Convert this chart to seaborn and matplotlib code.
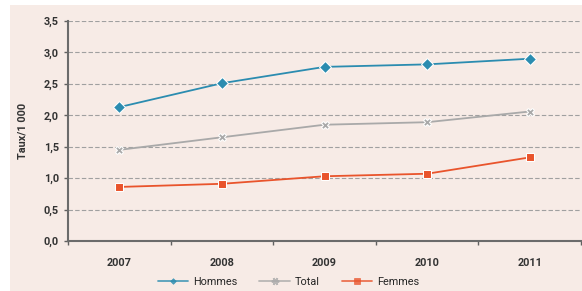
import pandas as pd
import matplotlib.pyplot as plt
import seaborn as sns
from matplotlib.patches import Rectangle
from matplotlib.ticker import FixedLocator, FuncFormatter

# Données
annees = ['2007', '2008', '2009', '2010', '2011']
hommes = [2.13, 2.51, 2.77, 2.81, 2.90]
total = [1.45, 1.65, 1.85, 1.89, 2.06]
femmes = [0.86, 0.91, 1.03, 1.07, 1.33]

series = ['Hommes', 'Total', 'Femmes']
couleurs = {'Hommes': '#2b8cb0', 'Total': '#a9a9a9', 'Femmes': '#e9542c'}
marqueurs = {'Hommes': 'D', 'Total': 'X', 'Femmes': 's'}
tailles = {'Hommes': 3.2, 'Total': 6, 'Femmes': 5}

df = pd.DataFrame({'annee': annees * 3,
                   'taux': hommes + total + femmes,
                   'serie': [s for s in series for _ in annees]})

sns.set_style('white')
plt.rcParams['font.family'] = ['Roboto', 'DejaVu Sans']

fond = '#f7ebe6'
fig = plt.figure(figsize=(5.82, 2.91), dpi=100, facecolor='white')
fig.patches.append(Rectangle((10 / 582, 0), 1, 1 - 5 / 291, transform=fig.transFigure,
                             facecolor=fond, edgecolor='none', zorder=-1))
ax = fig.add_axes([68 / 582, 50 / 291, 513 / 582, 220 / 291])
ax.set_facecolor(fond)

sns.lineplot(data=df, x='annee', y='taux', hue='serie', style='serie',
             palette=couleurs, markers=marqueurs, dashes=False,
             linewidth=1.3, ax=ax)


def style_marqueur(line, facteur=1.0):
    lab = line.get_label()
    if lab not in couleurs:
        return
    if lab == 'Total':
        line.set_marker((6, 2, 90))  # astérisque
        line.set_markeredgewidth(1.4)
    else:
        line.set_markeredgewidth(0.5)
    line.set_markeredgecolor(couleurs[lab])
    line.set_markerfacecolor(couleurs[lab])
    line.set_markersize(tailles[lab] * facteur)


for line in ax.get_lines():
    style_marqueur(line)

ax.set_xlim(-0.5, 4.5)
ax.set_ylim(0, 3.5)
ax.set_yticks([i * 0.5 for i in range(8)])
ax.yaxis.set_major_formatter(FuncFormatter(lambda v, p: f'{v:.1f}'.replace('.', ',')))
ax.yaxis.grid(True, linestyle=(0, (4, 2)), color='#a0a0a0', linewidth=0.8)
ax.set_axisbelow(True)

ax.xaxis.set_minor_locator(FixedLocator([i - 0.5 for i in range(6)]))
ax.tick_params(axis='x', which='major', length=0, pad=12, labelsize=7.8)
ax.tick_params(axis='x', which='minor', length=3, width=1, color='#606060', direction='out', bottom=True)
ax.tick_params(axis='y', length=3, width=1, color='#606060', direction='out', left=True, labelsize=7.8)
for lab in ax.get_xticklabels() + ax.get_yticklabels():
    lab.set_fontweight('bold')
    lab.set_color('#333333')

for s in ['top', 'right']:
    ax.spines[s].set_visible(False)
for s in ['left', 'bottom']:
    ax.spines[s].set_color('#6b6b6b')
    ax.spines[s].set_linewidth(1.5)

ax.set_xlabel('')
ax.set_ylabel('Taux/1 000', fontsize=7.8, fontweight='bold', color='#333333', labelpad=12)

leg = ax.legend(title=None, loc='center', bbox_to_anchor=(0.43, -0.185), ncol=3,
                frameon=False, fontsize=7.8, handlelength=2.8, handletextpad=0.5,
                columnspacing=2.0)
for h in leg.legend_handles:
    style_marqueur(h, 0.9)
    h.set_alpha(0.8)

fig.savefig('out.png', dpi=100, facecolor='white')
